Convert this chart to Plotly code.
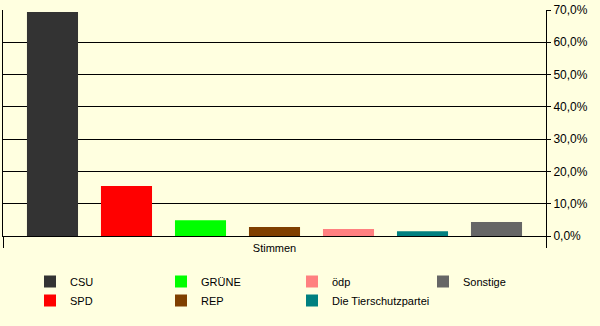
import plotly.graph_objects as go

parties = ["CSU", "SPD", "GRÜNE", "REP", "ödp", "Die Tierschutzpartei", "Sonstige"]
values = [69.4, 15.5, 4.9, 2.8, 2.2, 1.5, 4.3]
colors = ["#333333", "#FF0000", "#00FF00", "#7F3F00", "#FF8080", "#008080", "#666666"]
legend_ranks = [1, 5, 2, 6, 3, 7, 4]
category = ["Stimmen"]

BG = "#FFFFE0"

fig = go.Figure()
for name, val, col, rk in zip(parties, values, colors, legend_ranks):
    fig.add_trace(go.Bar(
        x=category, y=[val], name=name, marker=dict(color=col, line=dict(width=0)),
        legendrank=rk, hoverinfo="skip",
    ))

fig.update_layout(
    width=600, height=326,
    margin=dict(l=3, r=54, t=10, b=90),
    paper_bgcolor=BG, plot_bgcolor=BG,
    barmode="group", bargap=0.046, bargroupgap=0.31,
    separators=",.",
    font=dict(family="Arial, Liberation Sans, sans-serif", size=11, color="#000000"),
    showlegend=True,
    legend=dict(
        orientation="h", xref="container", yref="container",
        x=30/600, y=1-267/326, xanchor="left", yanchor="top",
        entrywidth=86, entrywidthmode="pixels",
        font=dict(size=11, color="#000000"),
        bgcolor="rgba(0,0,0,0)", traceorder="normal",
    ),
    xaxis=dict(
        type="category", showline=True, linecolor="#000000", linewidth=1,
        ticks="outside", ticklen=11, tickcolor="#000000", tickson="boundaries",
        ticklabelstandoff=2, showgrid=False, fixedrange=True,
    ),
    yaxis=dict(
        side="right", range=[0, 70], dtick=10, tickformat=".1f", ticksuffix="%",
        showline=True, mirror=True, linecolor="#000000", linewidth=1,
        ticks="outside", ticklen=4, tickcolor="#000000",
        tickfont=dict(size=12, color="#000000"),
        showgrid=True, gridcolor="#000000", gridwidth=1,
        zeroline=False, fixedrange=True,
    ),
)

fig.write_html("out.html")
